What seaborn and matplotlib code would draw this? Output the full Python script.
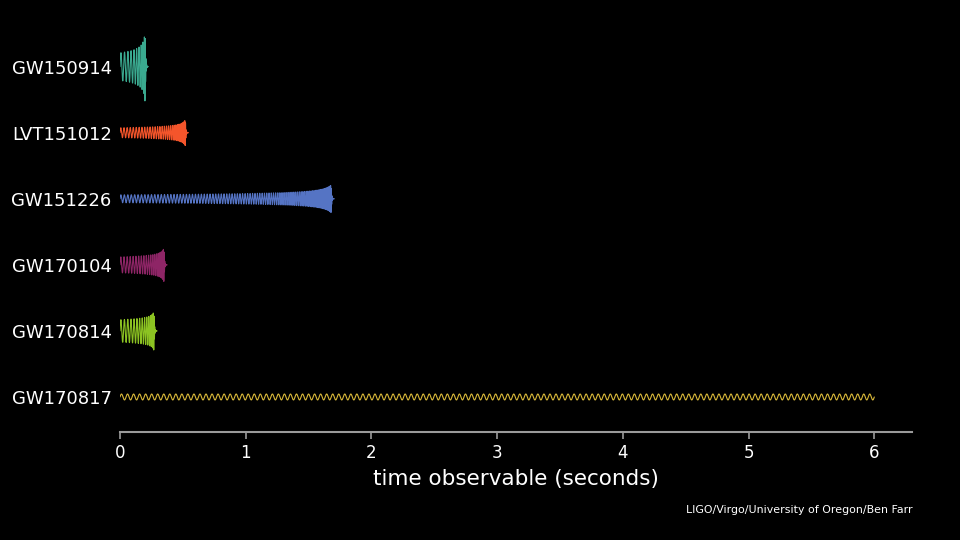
import numpy as np
import pandas as pd
import matplotlib
matplotlib.use('Agg')
import matplotlib.pyplot as plt
import seaborn as sns

# Events, top row first
events = ['GW150914', 'LVT151012', 'GW151226', 'GW170104', 'GW170814', 'GW170817']
durations = [0.20, 0.52, 1.68, 0.35, 0.27, 6.00]       # seconds observable
start_amp = [0.21, 0.075, 0.06, 0.12, 0.17, 0.045]     # amplitude at start (row units)
peak_amp = [0.57, 0.20, 0.21, 0.26, 0.30, 0.045]       # amplitude at merger
n_cycles = [10, 30, 90, 20, 14, 125]                   # visible cycles
colors = ['#3aa98f', '#f4552b', '#5574c4', '#8e2566', '#8cc322', '#d8b83a']

BG = '#000000'
AXIS_GRAY = '#9a9a9a'

sns.set_theme(style='dark')
plt.rcParams['font.family'] = ['DejaVu Sans']

fig = plt.figure(figsize=(9.6, 5.4), dpi=100, facecolor=BG)
ax = fig.add_axes([0.125, 0.2, 0.825, 0.75], facecolor=BG)

n_rows = len(events)
delta = 0.02
for i, ev in enumerate(events):
    row = n_rows - 1 - i
    T = durations[i]
    u = np.linspace(0, 1, 30000)
    t = u * T
    chirping = start_amp[i] != peak_amp[i]
    if chirping:
        # chirp shape built from the read-off parameters
        tau = (1 - u + delta) / (1 + delta)
        tau_end = delta / (1 + delta)
        phase = 2 * np.pi * n_cycles[i] * (1 - tau ** 0.625) / (1 - tau_end ** 0.625)
        k = np.log(peak_amp[i] / start_amp[i]) / np.log(1 / tau_end)
        amp = start_amp[i] * tau ** (-k)
    else:
        phase = 2 * np.pi * n_cycles[i] * u
        amp = np.full_like(u, start_amp[i])
    y = amp * np.sin(phase)
    # short ringdown after the merger
    if chirping:
        tr = np.linspace(0, 0.025, 400)
        f_end = 1.0 / 0.005
        yr = peak_amp[i] * np.exp(-tr / 0.004) * np.sin(phase[-1] + 2 * np.pi * f_end * tr)
        t = np.concatenate([t, T + tr])
        y = np.concatenate([y, yr])
    df = pd.DataFrame({'t': t, 'h': y + row})
    sns.lineplot(data=df, x='t', y='h', ax=ax, color=colors[i], lw=0.8,
                 sort=False, estimator=None, legend=False)

ax.set_xlim(0, 6.3)
ax.set_ylim(-0.53, 5.6)
ax.set_xticks(range(0, 7))
ax.set_yticks(range(n_rows))
ax.set_yticklabels(events[::-1])
ax.grid(False)
for side in ['left', 'top', 'right']:
    ax.spines[side].set_visible(False)
ax.spines['bottom'].set_color(AXIS_GRAY)
ax.spines['bottom'].set_linewidth(1.5)
ax.tick_params(axis='x', colors=AXIS_GRAY, length=5, width=1.2, labelcolor='white',
               labelsize=12, pad=4, bottom=True)
ax.tick_params(axis='y', length=0, labelcolor='white', labelsize=13, pad=6)
ax.set_xlabel('time observable (seconds)', color='white', fontsize=15.5, labelpad=5)
ax.set_ylabel('')

fig.text(0.951, 0.055, 'LIGO/Virgo/University of Oregon/Ben Farr', color='white',
         fontsize=7.9, ha='right', va='center')

fig.savefig('out.png', dpi=100, facecolor=BG)
plt.close(fig)
